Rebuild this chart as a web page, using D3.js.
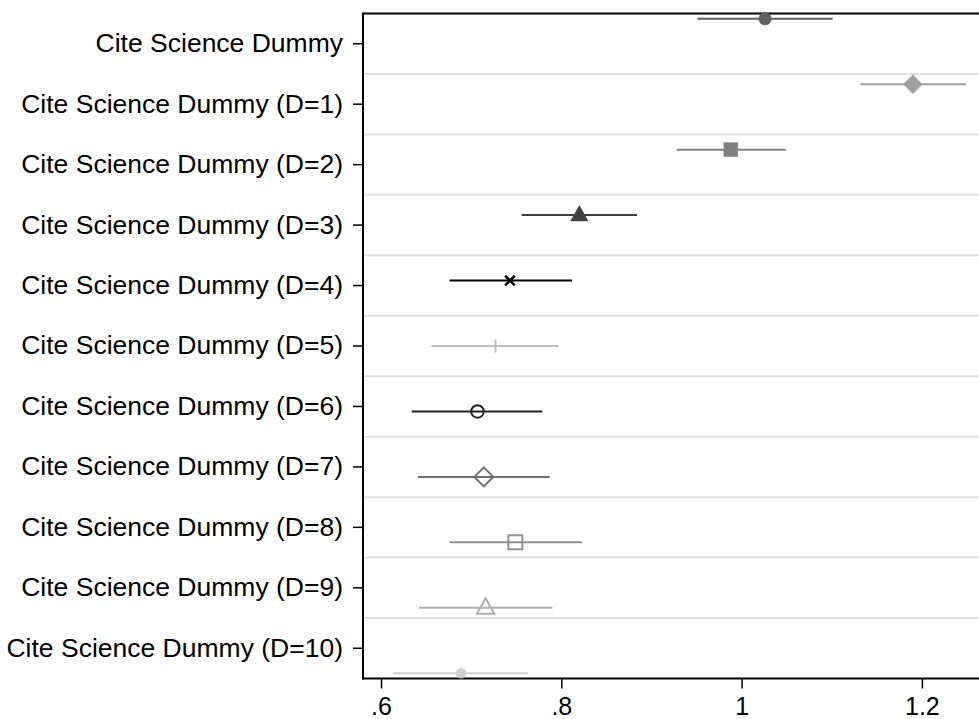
<!DOCTYPE html>
<html>
<head>
<meta charset="utf-8">
<script src="https://cdn.jsdelivr.net/npm/d3@7"></script>
<style>
  html, body { margin: 0; padding: 0; background: #fff; }
  svg { display: block; }
  text { font-family: "Liberation Sans", Arial, Helvetica, sans-serif; fill: #000; }
</style>
</head>
<body>
<svg id="chart" width="979" height="719"></svg>
<script>
// ---- data ----
const categories = [
  "Cite Science Dummy",
  "Cite Science Dummy (D=1)",
  "Cite Science Dummy (D=2)",
  "Cite Science Dummy (D=3)",
  "Cite Science Dummy (D=4)",
  "Cite Science Dummy (D=5)",
  "Cite Science Dummy (D=6)",
  "Cite Science Dummy (D=7)",
  "Cite Science Dummy (D=8)",
  "Cite Science Dummy (D=9)",
  "Cite Science Dummy (D=10)"
];
const estimates = [1.026, 1.190, 0.988, 0.820, 0.743, 0.727, 0.707, 0.714, 0.749, 0.716, 0.689];
const lowerCI   = [0.951, 1.132, 0.928, 0.756, 0.676, 0.656, 0.634, 0.641, 0.676, 0.642, 0.614];
const upperCI   = [1.101, 1.249, 1.049, 0.884, 0.812, 0.797, 0.779, 0.787, 0.823, 0.790, 0.763];
const xTickValues = [0.6, 0.8, 1, 1.2];
const xTickLabels = [".6", ".8", "1", "1.2"];

// ---- styles (Stata s2mono-like) ----
const markerShapes = ["circle", "diamond", "square", "triangle", "x", "plus",
                      "circle", "diamond", "square", "triangle", "smallcircle"];
const markerFilled = [true, true, true, true, false, false, false, false, false, false, true];
const colors = ["#5f5f5f", "#a0a0a0", "#808080", "#404040", "#000000", "#c0c0c0",
                "#202020", "#707070", "#909090", "#b0b0b0", "#d0d0d0"];

// ---- layout ----
const svg = d3.select("#chart");
const pLeft = 363, pTop = 13.5, pBottom = 678.5, pRight = 985;

const x = d3.scaleLinear().domain([0.58, 1.27]).range([pLeft, pRight]);
const y = d3.scaleBand().domain(categories).range([pTop, pBottom]).paddingInner(0).paddingOuter(0);
const bw = y.bandwidth();
const center = c => y(c) + bw / 2;
const offsetFrac = 0.0825; // per-model vertical offset (coefplot style)

// gridlines between categories
svg.append("g").selectAll("line")
  .data(categories.slice(1))
  .join("line")
  .attr("x1", pLeft + 1).attr("x2", pRight)
  .attr("y1", d => y(d)).attr("y2", d => y(d))
  .attr("stroke", "#e0e0e0").attr("stroke-width", 2);

// frame top
svg.append("line").attr("x1", pLeft).attr("x2", pRight).attr("y1", pTop).attr("y2", pTop)
  .attr("stroke", "#000").attr("stroke-width", 2);

// y axis
const yAxis = d3.axisLeft(y).tickSize(10).tickPadding(10);
const gy = svg.append("g").attr("transform", `translate(${pLeft},0)`).call(yAxis);
gy.select(".domain").attr("stroke", "#000").attr("stroke-width", 2)
  .attr("d", `M0,${pTop - 1}V${pBottom + 1}`);
gy.selectAll(".tick line").attr("stroke", "#000").attr("stroke-width", 1.5);
gy.selectAll(".tick text").attr("font-size", 26.5).attr("fill", "#000")
  .attr("font-family", '"Liberation Sans", Arial, Helvetica, sans-serif');

// x axis
const xAxis = d3.axisBottom(x).tickValues(xTickValues)
  .tickFormat((d, i) => xTickLabels[i]).tickSize(10).tickPadding(9);
const gx = svg.append("g").attr("transform", `translate(0,${pBottom})`).call(xAxis);
gx.select(".domain").attr("stroke", "#000").attr("stroke-width", 2)
  .attr("d", `M${pLeft - 1},0H${pRight}`);
gx.selectAll(".tick line").attr("stroke", "#000").attr("stroke-width", 1.5);
gx.selectAll(".tick text").attr("font-size", 25).attr("fill", "#000")
  .attr("font-family", '"Liberation Sans", Arial, Helvetica, sans-serif');

// marker path builder
function markerPath(shape) {
  const p = d3.path();
  if (shape === "circle") { p.arc(0, 0, 6.3, 0, 2 * Math.PI); }
  else if (shape === "smallcircle") { p.arc(0, 0, 5, 0, 2 * Math.PI); }
  else if (shape === "diamond") { const r = 9.5; p.moveTo(0, -r); p.lineTo(r, 0); p.lineTo(0, r); p.lineTo(-r, 0); p.closePath(); }
  else if (shape === "square") { const r = 7; p.rect(-r, -r, 2 * r, 2 * r); }
  else if (shape === "triangle") { const w = 8.7, h = 15.5; p.moveTo(0, -h * 0.62); p.lineTo(w, h * 0.38); p.lineTo(-w, h * 0.38); p.closePath(); }
  else if (shape === "x") { const r = 4.8; p.moveTo(-r, -r); p.lineTo(r, r); p.moveTo(r, -r); p.lineTo(-r, r); }
  else if (shape === "plus") { const r = 6.5; p.moveTo(-r, 0); p.lineTo(r, 0); p.moveTo(0, -r); p.lineTo(0, r); }
  return p.toString();
}

const rows = categories.map((c, i) => ({
  cat: c, i, est: estimates[i], lo: lowerCI[i], hi: upperCI[i],
  shape: markerShapes[i], filled: markerFilled[i], color: colors[i],
  yy: center(c) + (i - 5) * offsetFrac * bw
}));

const g = svg.append("g");
// CI lines
g.selectAll("line.ci").data(rows).join("line").attr("class", "ci")
  .attr("x1", d => x(d.lo)).attr("x2", d => x(d.hi))
  .attr("y1", d => d.yy).attr("y2", d => d.yy)
  .attr("stroke", d => d.color).attr("stroke-width", 2);

// markers (hollow markers are transparent so the CI line shows through)
g.selectAll("path.mk").data(rows).join("path").attr("class", "mk")
  .attr("transform", d => `translate(${x(d.est)},${d.yy})`)
  .attr("d", d => markerPath(d.shape))
  .attr("fill", d => d.filled ? d.color : "none")
  .attr("stroke", d => d.color)
  .attr("stroke-width", d => d.filled ? 0.5 : (d.shape === "x" ? 2.5 : 2));
</script>
</body>
</html>
